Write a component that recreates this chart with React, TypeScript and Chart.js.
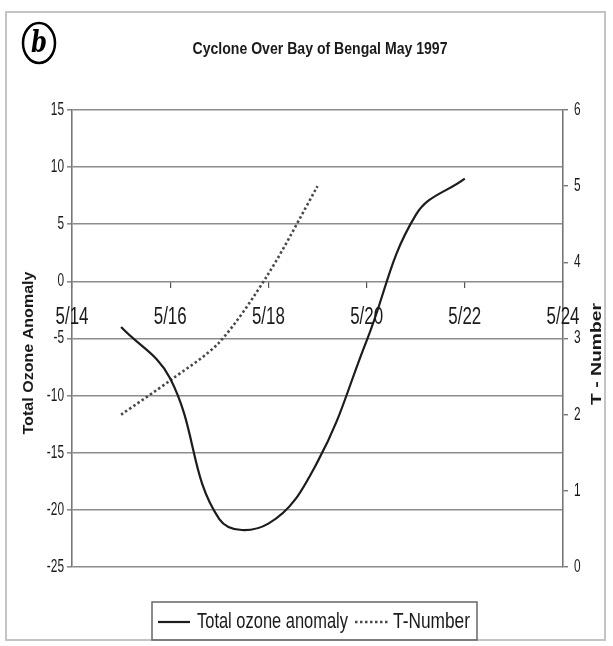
import { useEffect, useRef } from 'react';
import { Chart, registerables } from 'chart.js';

Chart.register(...registerables);

// ---- data ----
const ozoneDays = [15, 16, 17, 18, 19, 20, 21, 22];
const ozoneValues = [-4, -8.5, -20.8, -21.2, -15.8, -5.2, 5.8, 9];
const tDays = [15, 16, 17, 18, 19];
const tValues = [2.0, 2.45, 2.95, 3.85, 5.0];
const xTickDays = [14, 16, 18, 20, 22, 24];
const leftTicks = [-25, -20, -15, -10, -5, 0, 5, 10, 15];
const rightTicks = [0, 1, 2, 3, 4, 5, 6];

const TITLE = 'Cyclone Over Bay of Bengal May 1997';
const LEFT_TITLE = 'Total Ozone Anomaly';
const RIGHT_TITLE = 'T - Number';
const OZONE_LABEL = 'Total ozone anomaly';
const T_LABEL = 'T-Number';
const MONTH = 5;

const SANS = "'Liberation Sans', Arial, sans-serif";

function drawFitted(
  ctx: CanvasRenderingContext2D,
  text: string,
  cx: number,
  cy: number,
  width: number,
  font: string,
  rotation = 0,
  color = '#1a1a1a'
) {
  ctx.save();
  ctx.font = font;
  ctx.fillStyle = color;
  ctx.textAlign = 'center';
  ctx.textBaseline = 'middle';
  const w = ctx.measureText(text).width;
  ctx.translate(cx, cy);
  ctx.rotate(rotation);
  ctx.scale(width / w, 1);
  ctx.fillText(text, 0, 0);
  ctx.restore();
}

function drawScaled(
  ctx: CanvasRenderingContext2D,
  text: string,
  x: number,
  y: number,
  sx: number,
  font: string,
  align: CanvasTextAlign,
  color = '#1a1a1a'
) {
  ctx.save();
  ctx.font = font;
  ctx.fillStyle = color;
  ctx.textAlign = align;
  ctx.textBaseline = 'middle';
  ctx.translate(x, y);
  ctx.scale(sx, 1);
  ctx.fillText(text, 0, 0);
  ctx.restore();
}

const decorPlugin = {
  id: 'decor',
  beforeDraw(chart: any) {
    const ctx: CanvasRenderingContext2D = chart.ctx;
    ctx.save();
    ctx.fillStyle = '#ffffff';
    ctx.fillRect(0, 0, chart.width, chart.height);
    ctx.strokeStyle = '#c4c4c4';
    ctx.lineWidth = 2;
    ctx.strokeRect(6, 12, 599, 628);
    ctx.restore();
  },
  afterDraw(chart: any) {
    const ctx: CanvasRenderingContext2D = chart.ctx;
    const area = chart.chartArea;

    // tick labels
    const sy = chart.scales.y;
    sy.ticks.forEach((t: any) => {
      drawScaled(ctx, String(t.label ?? t.value), area.left - 8, sy.getPixelForValue(t.value), 0.66, `18px ${SANS}`, 'right');
    });
    const sy1 = chart.scales.y1;
    sy1.ticks.forEach((t: any) => {
      drawScaled(ctx, String(t.label ?? t.value), area.right + 11, sy1.getPixelForValue(t.value), 0.66, `18px ${SANS}`, 'left');
    });
    const sxs = chart.scales.x;
    const zeroY = sy.getPixelForValue(0);
    sxs.ticks.forEach((t: any) => {
      drawScaled(ctx, String(t.label ?? `${MONTH}/${t.value}`), sxs.getPixelForValue(t.value), zeroY + 36, 0.72, `23.5px ${SANS}`, 'center');
    });

    // circled b
    ctx.save();
    ctx.strokeStyle = '#000';
    ctx.lineWidth = 2.5;
    ctx.beginPath();
    ctx.ellipse(39, 43, 16, 20, 0, 0, Math.PI * 2);
    ctx.stroke();
    ctx.restore();
    drawFitted(ctx, 'b', 39, 44, 16, "italic bold 30px 'DejaVu Serif', 'Liberation Serif', serif", 0, '#000');

    drawFitted(ctx, TITLE, 320, 50, 255, `bold 16px ${SANS}`);
    drawFitted(ctx, LEFT_TITLE, 29, 353, 163, `bold 15px ${SANS}`, -Math.PI / 2);
    drawFitted(ctx, RIGHT_TITLE, 597, 354, 102, `bold 15px ${SANS}`, -Math.PI / 2);

    // legend
    const ds = chart.data.datasets;
    ctx.save();
    ctx.strokeStyle = '#666';
    ctx.lineWidth = 1.5;
    ctx.strokeRect(152, 602, 325, 38);
    const ly = 622;
    ctx.strokeStyle = ds[0].borderColor;
    ctx.lineWidth = ds[0].borderWidth;
    ctx.beginPath();
    ctx.moveTo(158, ly);
    ctx.lineTo(190, ly);
    ctx.stroke();
    ctx.strokeStyle = ds[1].borderColor;
    ctx.lineWidth = ds[1].borderWidth;
    ctx.setLineDash(ds[1].borderDash);
    ctx.beginPath();
    ctx.moveTo(355, ly);
    ctx.lineTo(390, ly);
    ctx.stroke();
    ctx.restore();
    drawFitted(ctx, ds[0].label, 272.5, ly, 151, `22px ${SANS}`);
    drawFitted(ctx, ds[1].label, 431.5, ly, 77, `22px ${SANS}`);
  },
};

export default function App() {
  const ref = useRef<HTMLCanvasElement | null>(null);

  useEffect(() => {
    document.body.style.margin = '0';
    const canvas = ref.current;
    if (!canvas) return;
    const chart = new Chart(canvas, {
      type: 'line',
      data: {
        datasets: [
          {
            label: OZONE_LABEL,
            data: ozoneDays.map((d, i) => ({ x: d, y: ozoneValues[i] })),
            yAxisID: 'y',
            borderColor: '#1c1c1c',
            borderWidth: 2.2,
            pointRadius: 0,
            tension: 0.4,
            fill: false,
          },
          {
            label: T_LABEL,
            data: tDays.map((d, i) => ({ x: d, y: tValues[i] })),
            yAxisID: 'y1',
            borderColor: '#4a4a4a',
            borderWidth: 2.6,
            borderDash: [2.5, 2.5],
            pointRadius: 0,
            tension: 0.3,
            fill: false,
          },
        ],
      },
      options: {
        animation: false,
        responsive: false,
        devicePixelRatio: 1,
        layout: { padding: { top: 110, bottom: 79, left: 0, right: 0 } },
        plugins: {
          legend: { display: false },
          title: { display: false },
          tooltip: { enabled: false },
        },
        scales: {
          x: {
            type: 'linear',
            min: xTickDays[0],
            max: xTickDays[xTickDays.length - 1],
            position: { y: 0 } as any,
            afterBuildTicks: (s: any) => {
              s.ticks = xTickDays.map((v) => ({ value: v }));
            },
            ticks: {
              display: false,
              callback: (v: any) => `${MONTH}/${v}`,
              autoSkip: false,
            },
            grid: { drawOnChartArea: false, tickLength: 7, color: '#555', lineWidth: 1.2 },
            border: { display: false },
          },
          y: {
            type: 'linear',
            position: 'left',
            min: leftTicks[0],
            max: leftTicks[leftTicks.length - 1],
            afterBuildTicks: (s: any) => {
              s.ticks = leftTicks.map((v) => ({ value: v }));
            },
            afterFit: (s: any) => {
              s.width = 72;
            },
            ticks: { display: false },
            grid: { color: '#8c8c8c', lineWidth: 1.6, tickLength: 5 },
            border: { display: true, color: '#777', width: 1.6 },
          },
          y1: {
            type: 'linear',
            position: 'right',
            min: rightTicks[0],
            max: rightTicks[rightTicks.length - 1],
            afterBuildTicks: (s: any) => {
              s.ticks = rightTicks.map((v) => ({ value: v }));
            },
            afterFit: (s: any) => {
              s.width = 50;
            },
            ticks: { display: false },
            grid: { drawOnChartArea: false, color: '#777', lineWidth: 1.4, tickLength: 5 },
            border: { display: true, color: '#777', width: 1.6 },
          },
        },
      },
      plugins: [decorPlugin],
    });
    return () => chart.destroy();
  }, []);

  return (
    <div style={{ width: 613, height: 646 }}>
      <canvas ref={ref} width={613} height={646} style={{ display: 'block', width: 613, height: 646 }} />
    </div>
  );
}
